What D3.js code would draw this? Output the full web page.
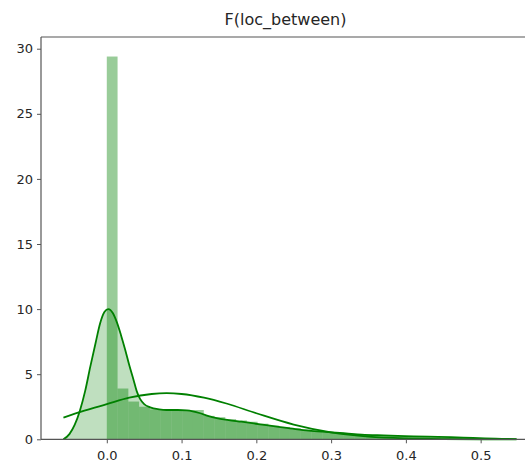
<!DOCTYPE html>
<html><head><meta charset="utf-8">
<script src="https://cdn.jsdelivr.net/npm/d3@7"></script>
<style>body{margin:0;background:#fff}svg{display:block}text{font-family:"DejaVu Sans",sans-serif}</style>
</head><body><svg id="c" width="525" height="463"></svg>
<script>
const title = "F(loc_between)";
const xTicks = [0.0, 0.1, 0.2, 0.3, 0.4, 0.5];
const yTicks = [0, 5, 10, 15, 20, 25, 30];
const binStart = 0.0, binWidth = 0.01441;
const histHeights = [29.4, 3.9, 2.9, 2.5, 2.3, 2.25, 2.25, 2.25, 2.25, 1.8, 1.7, 1.55, 1.45, 1.35, 1.2, 1.05, 0.95, 0.85, 0.75, 0.65, 0.55, 0.5, 0.42, 0.38, 0.33, 0.3, 0.27, 0.24, 0.2, 0.18, 0.15, 0.12, 0.09, 0.06];
const kdeX = [-0.058,-0.05,-0.043,-0.036,-0.029,-0.022,-0.015,-0.009,-0.003,0.002,0.008,0.0134,0.019,0.0245,0.03,0.0356,0.04,0.0445,0.05,0.058,0.07,0.08,0.095,0.107,0.115,0.125,0.135,0.147,0.163,0.18,0.205,0.23,0.252,0.27,0.296,0.32,0.341,0.37,0.399,0.43,0.46,0.49,0.52,0.548];
const kdeY = [0,0.4,1.1,2.2,3.7,5.6,7.4,8.9,9.8,10.0,9.7,9.0,8.0,6.9,5.7,4.6,3.7,3.1,2.7,2.45,2.3,2.25,2.25,2.22,2.15,2.0,1.8,1.62,1.48,1.35,1.15,0.95,0.78,0.66,0.55,0.45,0.36,0.3,0.25,0.2,0.16,0.1,0.05,0.01];
const fitX = [-0.058,-0.03,0.0,0.03,0.06,0.08,0.1,0.13,0.16,0.2,0.25,0.3,0.35,0.4,0.45,0.5,0.548];
const fitY = [1.67,2.2,2.7,3.2,3.48,3.54,3.48,3.2,2.75,2.0,1.13,0.53,0.2,0.063,0.016,0.003,0.0];

const svg = d3.select("#c");
const L = 41, R = 530, T = 37, B = 439.3;
const x = d3.scaleLinear().domain([-0.088, 0.566]).range([L, R]);
const y = d3.scaleLinear().domain([0, 30.9]).range([B, T]);
const green = "#008000";

// histogram
svg.append("g").selectAll("rect").data(histHeights).join("rect")
  .attr("x", (d,i) => x(binStart + i*binWidth))
  .attr("width", (d,i) => x(binStart + (i+1)*binWidth) - x(binStart + i*binWidth))
  .attr("y", d => y(d))
  .attr("height", d => y(0) - y(d))
  .attr("fill", green).attr("fill-opacity", 0.4);

const kde = kdeX.map((v,i) => [v, kdeY[i]]);
const fit = fitX.map((v,i) => [v, fitY[i]]);
svg.append("path").datum(kde)
  .attr("d", d3.area().x(d => x(d[0])).y0(y(0)).y1(d => y(d[1])).curve(d3.curveMonotoneX))
  .attr("fill", green).attr("fill-opacity", 0.25);
const line = d3.line().x(d => x(d[0])).y(d => y(d[1])).curve(d3.curveMonotoneX);
svg.append("path").datum(kde).attr("d", line).attr("fill","none").attr("stroke", green).attr("stroke-width", 1.8);
svg.append("path").datum(fit).attr("d", line).attr("fill","none").attr("stroke", green).attr("stroke-width", 1.8);

// axes
const xa = svg.append("g").attr("transform", `translate(0,${B})`)
  .call(d3.axisBottom(x).tickValues(xTicks).tickFormat(d3.format(".1f")).tickSizeOuter(0).tickSize(4));
const ya = svg.append("g").attr("transform", `translate(${L},0)`)
  .call(d3.axisLeft(y).tickValues(yTicks).tickFormat(d3.format("d")).tickSizeOuter(0).tickSize(4));
[xa, ya].forEach(g => {
  g.select(".domain").remove();
  g.selectAll(".tick line").attr("stroke", "#555").attr("stroke-width", 1);
  g.selectAll(".tick text").attr("fill", "#262626").attr("font-size", 13).attr("font-family", "DejaVu Sans");
});
xa.selectAll(".tick text").attr("dy", "1.05em");
ya.selectAll(".tick text").attr("x", -8);

// spines
svg.append("line").attr("x1", L).attr("x2", L).attr("y1", T).attr("y2", B).attr("stroke", "#555").attr("stroke-width", 1.2);
svg.append("line").attr("x1", L).attr("x2", 525).attr("y1", B).attr("y2", B).attr("stroke", "#555").attr("stroke-width", 1.2);
svg.append("line").attr("x1", L).attr("x2", 525).attr("y1", T).attr("y2", T).attr("stroke", "#555").attr("stroke-width", 1.2);

svg.append("text").attr("x", (L+R)/2).attr("y", 25).attr("text-anchor", "middle")
  .attr("font-size", 16).attr("fill", "#262626").text(title);
</script></body></html>
